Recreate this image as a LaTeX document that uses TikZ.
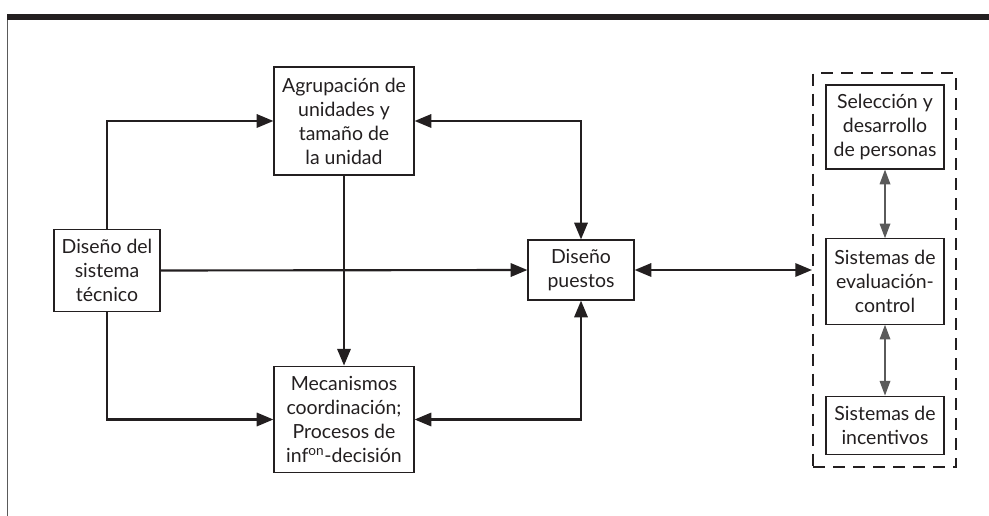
\documentclass[tikz,border=0pt]{standalone}
\usepackage{fontspec}
\setmainfont{Lato}
\usetikzlibrary{arrows.meta,positioning}
\definecolor{inkblack}{HTML}{231F20}
\definecolor{rulegray}{HTML}{5A5A5A}

\begin{document}
\begin{tikzpicture}[x=0.75pt, y=-0.75pt,
    box/.style={draw=inkblack, line width=0.9pt, align=center, inner sep=2pt,
      text=inkblack, font=\fontsize{14.6}{18}\selectfont},
    flow/.style={draw=inkblack, line width=1.6pt, -{Triangle[length=12.5pt,width=10pt]}},
    link/.style={draw=inkblack, line width=1.6pt,
      {Triangle[length=12.5pt,width=10pt]}-{Triangle[length=12.5pt,width=10pt]}},
    thinlink/.style={draw=rulegray, line width=0.9pt,
      {Triangle[length=11pt,width=8pt]}-{Triangle[length=11pt,width=8pt]}}]
    \useasboundingbox (0,0) rectangle (989,516);

    % Page frame
    \fill[inkblack] (7,14) rectangle (989,20.5);
    \draw[rulegray, line width=0.9pt] (7.5,20) -- (7.5,516);

    % Left and centre boxes
    \node[box, minimum width=105pt, minimum height=81pt] (agr) at (344,121)
      {Agrupación de\\unidades y\\tamaño de\\la unidad};
    \node[box, minimum width=79.5pt, minimum height=62pt] (dst) at (107,270.5)
      {Diseño del\\sistema\\técnico};
    \node[box, minimum width=105pt, minimum height=80pt] (mec) at (344,419.5)
      {Mecanismos\\coordinación;\\Procesos de\\inf\textsuperscript{on}-decisión};
    \node[box, minimum width=79.5pt, minimum height=45pt] (dp) at (581,270)
      {Diseño\\puestos};

    % Right group (dashed)
    \node[draw=inkblack, line width=1.8pt, dash pattern=on 9pt off 6pt,
      minimum width=107pt, minimum height=295.5pt] (grp) at (884.5,270) {};
    \node[box, minimum width=88.5pt, minimum height=63pt] (sel) at (885,127)
      {Selección y\\desarrollo\\de personas};
    \node[box, minimum width=88.5pt, minimum height=64pt] (sev) at (885,281.5)
      {Sistemas de\\evaluación-\\control};
    \node[box, minimum width=88.5pt, minimum height=44pt] (sin) at (885,425.5)
      {Sistemas de\\incentivos};

    % Connectors
    \draw[flow] (dst.north) |- (agr.west);
    \draw[flow] (dst.south) |- (mec.west);
    \draw[flow] (dst.east) -- (dp.west);
    \draw[flow] (agr.south) -- (mec.north);
    \draw[link] (agr.east) -| (dp.north);
    \draw[link] (mec.east) -| (dp.south);
    \draw[link] (dp.east) -- (grp.west |- dp.east);

    % Inside the group
    \draw[thinlink] (sel.south) -- (sev.north);
    \draw[thinlink] (sev.south) -- (sin.north);
\end{tikzpicture}
\end{document}
